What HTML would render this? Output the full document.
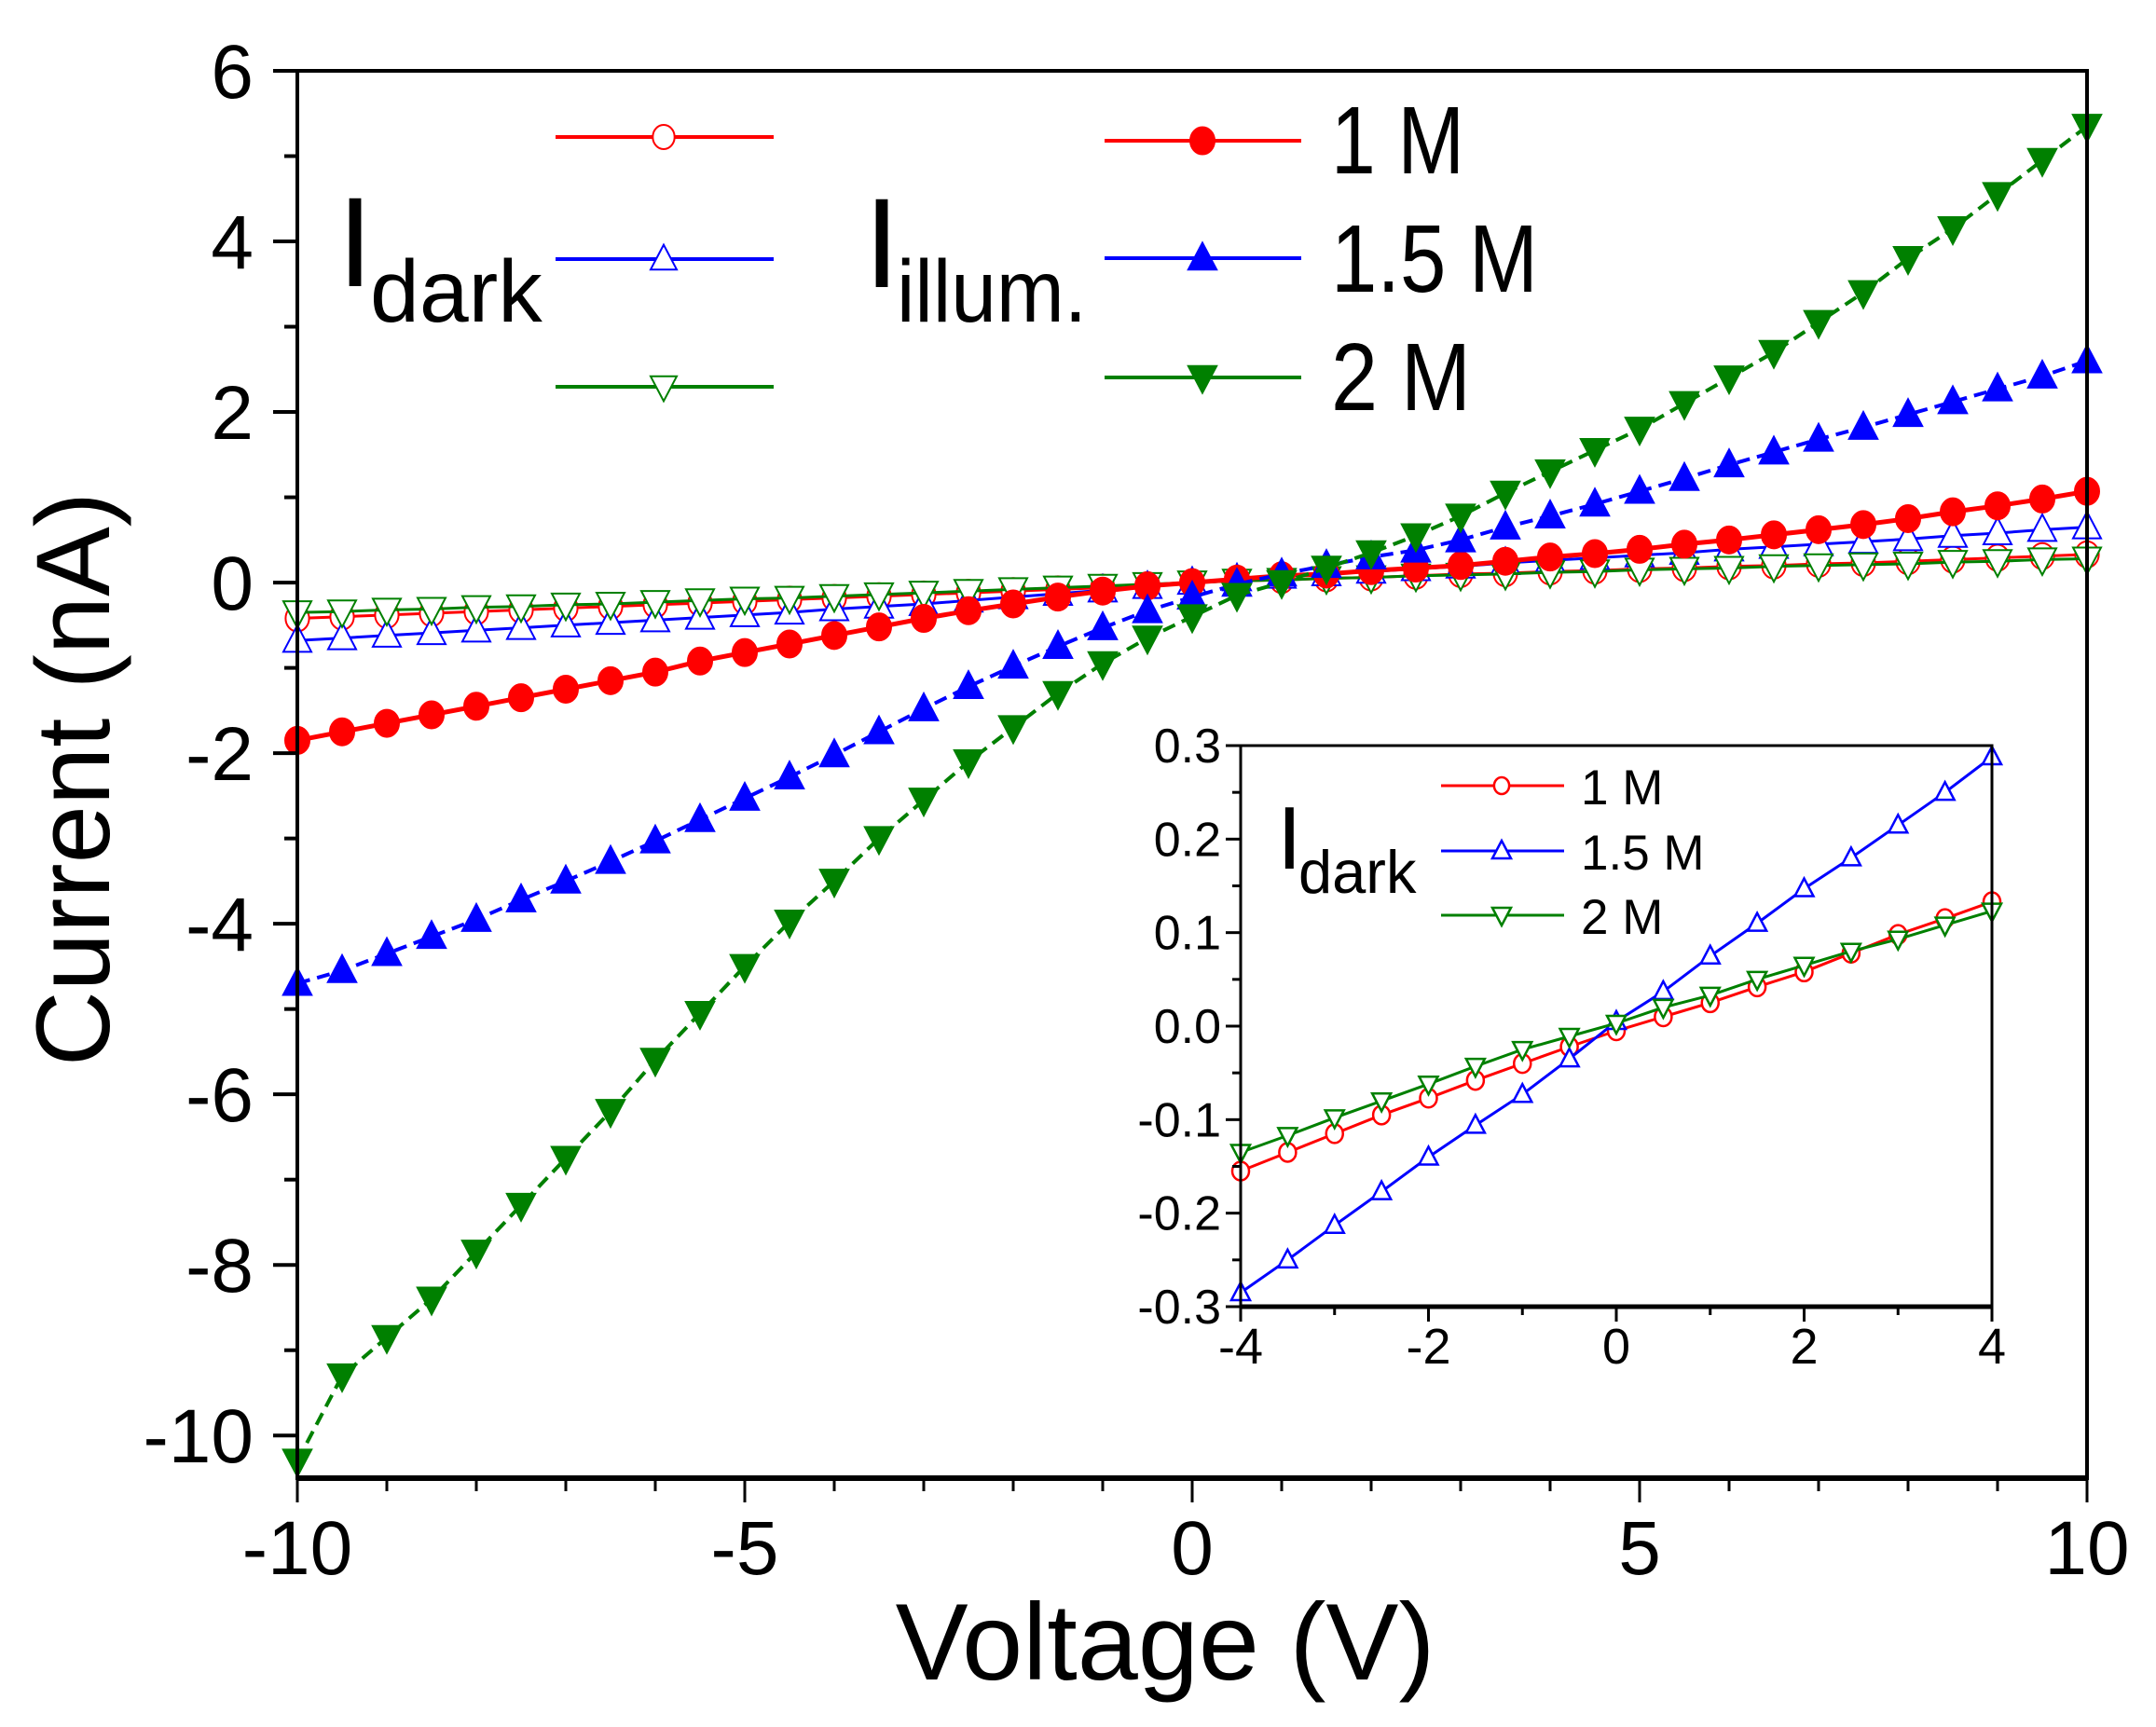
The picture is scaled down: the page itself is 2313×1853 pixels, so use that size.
<!DOCTYPE html>
<html><head><meta charset="utf-8">
<style>
html,body{margin:0;padding:0;background:#fff;}
svg{display:block;font-family:"Liberation Sans",Arial,sans-serif;}
</style></head>
<body>
<svg id="chart" width="2313" height="1853" viewBox="0 0 2313 1853" xmlns="http://www.w3.org/2000/svg">
<rect x="0" y="0" width="2313" height="1853" fill="#fff"/>
<g id="main-plot"></g>
<g id="inset-plot"></g>
</svg>
<script>
// ---- main chart data ----
const mainVoltages = [-10,-9.5,-9,-8.5,-8,-7.5,-7,-6.5,-6,-5.5,-5,-4.5,-4,-3.5,-3,-2.5,-2,-1.5,-1,-0.5,0,0.5,1,1.5,2,2.5,3,3.5,4,4.5,5,5.5,6,6.5,7,7.5,8,8.5,9,9.5,10];
const illum1M = [-1.85,-1.75,-1.65,-1.55,-1.45,-1.35,-1.25,-1.15,-1.05,-0.92,-0.82,-0.72,-0.62,-0.52,-0.42,-0.33,-0.25,-0.17,-0.1,-0.04,0,0.04,0.08,0.1,0.14,0.17,0.2,0.25,0.3,0.34,0.39,0.45,0.5,0.56,0.62,0.68,0.75,0.83,0.9,0.98,1.07];
const illum15M = [-4.7,-4.55,-4.35,-4.15,-3.95,-3.72,-3.5,-3.27,-3.03,-2.78,-2.53,-2.28,-2.02,-1.75,-1.48,-1.22,-0.98,-0.75,-0.53,-0.33,-0.17,-0.02,0.1,0.2,0.3,0.38,0.5,0.65,0.78,0.92,1.07,1.22,1.38,1.53,1.68,1.82,1.97,2.12,2.27,2.42,2.6];
const illum2M = [-10.3,-9.3,-8.85,-8.4,-7.85,-7.3,-6.75,-6.2,-5.6,-5.05,-4.5,-3.98,-3.5,-3.0,-2.55,-2.1,-1.7,-1.3,-0.95,-0.65,-0.4,-0.15,0.0,0.17,0.35,0.55,0.78,1.05,1.3,1.55,1.8,2.1,2.4,2.7,3.05,3.4,3.8,4.15,4.55,4.95,5.35];
const dark1M = [-0.42,-0.4,-0.38,-0.36,-0.34,-0.32,-0.3,-0.28,-0.26,-0.24,-0.22,-0.2,-0.18,-0.16,-0.14,-0.12,-0.1,-0.08,-0.06,-0.03,0,0.02,0.03,0.05,0.06,0.08,0.1,0.11,0.13,0.14,0.16,0.17,0.19,0.2,0.22,0.23,0.25,0.27,0.29,0.31,0.33];
const dark15M = [-0.68,-0.65,-0.62,-0.59,-0.56,-0.53,-0.5,-0.47,-0.44,-0.41,-0.38,-0.35,-0.31,-0.28,-0.25,-0.21,-0.17,-0.13,-0.09,-0.05,0,0.04,0.07,0.1,0.13,0.16,0.19,0.23,0.26,0.29,0.32,0.35,0.39,0.42,0.45,0.48,0.51,0.55,0.58,0.62,0.65];
const dark2M = [-0.35,-0.34,-0.32,-0.31,-0.29,-0.28,-0.26,-0.25,-0.23,-0.21,-0.19,-0.18,-0.16,-0.14,-0.12,-0.1,-0.08,-0.06,-0.04,-0.02,0,0.02,0.03,0.05,0.06,0.08,0.09,0.1,0.12,0.13,0.15,0.16,0.17,0.19,0.2,0.21,0.22,0.24,0.25,0.27,0.28];
const mainXTicks = [-10,-5,0,5,10];
const mainXTickLabels = ["-10","-5","0","5","10"];
const mainYTicks = [-10,-8,-6,-4,-2,0,2,4,6];
const mainYTickLabels = ["-10","-8","-6","-4","-2","0","2","4","6"];
// ---- inset data ----
const insetVoltages = [-4,-3.5,-3,-2.5,-2,-1.5,-1,-0.5,0,0.5,1,1.5,2,2.5,3,3.5,4];
const insetDark1M = [-0.155,-0.135,-0.115,-0.095,-0.077,-0.058,-0.04,-0.022,-0.005,0.01,0.025,0.042,0.058,0.078,0.098,0.115,0.133];
const insetDark15M = [-0.285,-0.25,-0.213,-0.177,-0.14,-0.106,-0.073,-0.035,0.005,0.037,0.075,0.11,0.147,0.18,0.215,0.25,0.288];
const insetDark2M = [-0.135,-0.117,-0.098,-0.08,-0.062,-0.043,-0.025,-0.011,0.003,0.02,0.033,0.05,0.065,0.08,0.093,0.108,0.123];
const insetXTicks = [-4,-2,0,2,4];
const insetXTickLabels = ["-4","-2","0","2","4"];
const insetYTicks = [-0.3,-0.2,-0.1,0,0.1,0.2,0.3];
const insetYTickLabels = ["-0.3","-0.2","-0.1","0.0","0.1","0.2","0.3"];

const NS = "http://www.w3.org/2000/svg";
function mk(parent, tag, attrs, text){
  const e = document.createElementNS(NS, tag);
  for (const k in attrs) e.setAttribute(k, attrs[k]);
  if (text !== undefined) e.textContent = text;
  parent.appendChild(e);
  return e;
}
const RED="#ff0000", BLUE="#0000ff", GREEN="#008000";

function marker(g, shape, cx, cy, s, color, filled, sw){
  let el;
  const fill = filled ? color : "#fff";
  if (shape === "circle") {
    el = mk(g, "ellipse", {cx:cx, cy:cy, rx:s*0.45, ry:s*0.5, fill:fill, stroke:color, "stroke-width":sw});
  } else if (shape === "up") {
    el = mk(g, "polygon", {points:`${cx},${cy-s*0.55} ${cx-s*0.5},${cy+s*0.4} ${cx+s*0.5},${cy+s*0.4}`, fill:fill, stroke:color, "stroke-width":sw});
  } else {
    el = mk(g, "polygon", {points:`${cx},${cy+s*0.55} ${cx-s*0.5},${cy-s*0.4} ${cx+s*0.5},${cy-s*0.4}`, fill:fill, stroke:color, "stroke-width":sw});
  }
  return el;
}

// ===== MAIN =====
const main = document.getElementById("main-plot");
const L=319, R=2239, T=76, B=1586;
const xMin=-10, xMax=10, yMin=-10.5, yMax=6;
const X = v => L + (v - xMin) / (xMax - xMin) * (R - L);
const Y = v => B - (v - yMin) / (yMax - yMin) * (B - T);

function series(g, xs, ys, color, shape, filled, dash, name, size, lw, msw){
  const sg = mk(g, "g", {});
  
  
  const pts = xs.map((x,i)=>`${X(x).toFixed(1)},${Y(ys[i]).toFixed(1)}`).join(" ");
  const pl = mk(sg, "polyline", {points:pts, fill:"none", stroke:color, "stroke-width":lw});
  if (dash) pl.setAttribute("stroke-dasharray", dash);
  
  
  xs.forEach((x,i)=>{
    const m = marker(sg, shape, X(x), Y(ys[i]), size, color, filled, msw);
    
    
  });
}
// dark (open) first
series(main, mainVoltages, dark1M, RED, "circle", false, null, "dark-1m-series", 28, 3, 2);
series(main, mainVoltages, dark15M, BLUE, "up", false, null, "dark-1.5m-series", 30, 3, 2);
series(main, mainVoltages, dark2M, GREEN, "down", false, null, "dark-2m-series", 30, 3, 2);
series(main, mainVoltages, illum1M, RED, "circle", true, null, "illum-1m-series", 30, 5, 1);
series(main, mainVoltages, illum15M, BLUE, "up", true, "14,8", "illum-1.5m-series", 32, 4, 1);
series(main, mainVoltages, illum2M, GREEN, "down", true, "14,8", "illum-2m-series", 32, 4, 1);

// frame
const fr = mk(main, "rect", {x:L, y:T, width:R-L, height:B-T, fill:"none", stroke:"#000", "stroke-width":4});


mk(main, "line", {x1:L, y1:B, x2:R, y2:B, stroke:"#000", "stroke-width":6});

// x ticks
for (let v=-10; v<=10; v+=1){
  const major = mainXTicks.includes(v);
  mk(main, "line", {x1:X(v), y1:B, x2:X(v), y2:B+(major?26:14), stroke:"#000", "stroke-width":3});
}
mainXTicks.forEach((v,i)=>{
  const t = mk(main, "text", {x:X(v), y:1689, "font-size":82, "text-anchor":"middle"}, mainXTickLabels[i]);
  
  
});
// y ticks
for (let v=-10; v<=6; v+=1){
  const major = mainYTicks.includes(v);
  mk(main, "line", {x1:L, y1:Y(v), x2:L-(major?26:14), y2:Y(v), stroke:"#000", "stroke-width":4});
}
mainYTicks.forEach((v,i)=>{
  const t = mk(main, "text", {x:272, y:Y(v)+29, "font-size":82, "text-anchor":"end"}, mainYTickLabels[i]);
  
  
});
// axis titles
const xt = mk(main, "text", {x:1250, y:1802, "font-size":117, "text-anchor":"middle"}, "Voltage (V)");


const yt = mk(main, "text", {x:0, y:0, "font-size":112, "text-anchor":"middle", transform:"translate(117,836) rotate(-90)"}, "Current (nA)");



// legends
function legendEntry(g, x1, x2, mx, y, color, shape, filled, size, lw, msw, name){
  const eg = mk(g, "g", {});
  
  
  mk(eg, "line", {x1:x1, y1:y, x2:x2, y2:y, stroke:color, "stroke-width":lw});
  marker(eg, shape, mx, y, size, color, filled, msw);
  return eg;
}
const lg = mk(main, "g", {});


legendEntry(lg, 596, 830, 712, 147, RED, "circle", false, 26, 4, 2, "legend-dark-1m");
legendEntry(lg, 596, 830, 712, 278, BLUE, "up", false, 28, 4, 2, "legend-dark-1.5m");
legendEntry(lg, 596, 830, 712, 415, GREEN, "down", false, 28, 4, 2, "legend-dark-2m");
legendEntry(lg, 1185, 1396, 1290, 151, RED, "circle", true, 30, 4, 1, "legend-illum-1m");
legendEntry(lg, 1185, 1396, 1290, 277, BLUE, "up", true, 32, 4, 1, "legend-illum-1.5m");
legendEntry(lg, 1185, 1396, 1290, 405, GREEN, "down", true, 32, 4, 1, "legend-illum-2m");
const ld = mk(lg, "text", {x:362, y:307, "font-size":137}, "I");


mk(lg, "text", {x:397, y:345, "font-size":95}, "dark");
const li = mk(lg, "text", {x:927, y:308, "font-size":137}, "I");


mk(lg, "text", {x:962, y:345, "font-size":95, textLength:204, lengthAdjust:"spacingAndGlyphs"}, "illum.");
[["1 M",186,143],["1.5 M",313,222],["2 M",440,150]].forEach(a=>{
  const t = mk(lg, "text", {x:1428, y:a[1], "font-size":103, textLength:a[2], lengthAdjust:"spacingAndGlyphs"}, a[0]);
  
  
});

// ===== INSET =====
const ins = document.getElementById("inset-plot");
const iL=1331, iR=2137, iT=800, iB=1402;
const iX = v => iL + (v + 4) / 8 * (iR - iL);
const iY = v => iB - (v + 0.3) / 0.6 * (iB - iT);
mk(ins, "rect", {x:iL, y:iT, width:iR-iL, height:iB-iT, fill:"#fff", stroke:"none"});
function iseries(xs, ys, color, shape, name){
  const sg = mk(ins, "g", {});
  
  
  mk(sg, "polyline", {points: xs.map((x,i)=>`${iX(x).toFixed(1)},${iY(ys[i]).toFixed(1)}`).join(" "), fill:"none", stroke:color, "stroke-width":3});
  xs.forEach((x,i)=>{
    const m = marker(sg, shape, iX(x), iY(ys[i]), 20, color, false, 2.5);
    
    
  });
}
iseries(insetVoltages, insetDark1M, RED, "circle", "inset-1m-series");
iseries(insetVoltages, insetDark15M, BLUE, "up", "inset-1.5m-series");
iseries(insetVoltages, insetDark2M, GREEN, "down", "inset-2m-series");
const ifr = mk(ins, "rect", {x:iL, y:iT, width:iR-iL, height:iB-iT, fill:"none", stroke:"#000", "stroke-width":3});


mk(ins, "line", {x1:iL, y1:iB, x2:iR, y2:iB, stroke:"#000", "stroke-width":5});
for (let v=-4; v<=4; v+=1){
  const major = insetXTicks.includes(v);
  mk(ins, "line", {x1:iX(v), y1:iB, x2:iX(v), y2:iB+(major?16:9), stroke:"#000", "stroke-width":3});
}
insetXTicks.forEach((v,i)=>{
  const t = mk(ins, "text", {x:iX(v), y:1463, "font-size":54, "text-anchor":"middle"}, insetXTickLabels[i]);
  
  
});
for (let k=-6; k<=6; k++){
  const v = k*0.05;
  const major = (k % 2 === 0);
  mk(ins, "line", {x1:iL, y1:iY(v), x2:iL-(major?16:9), y2:iY(v), stroke:"#000", "stroke-width":3});
}
insetYTicks.forEach((v,i)=>{
  const t = mk(ins, "text", {x:1310, y:iY(v)+18, "font-size":52, "text-anchor":"end"}, insetYTickLabels[i]);
  
  
});
const ilg = mk(ins, "g", {});


legendEntry(ilg, 1546, 1678, 1611, 843, RED, "circle", false, 18, 3, 2.5, "inset-legend-1m");
legendEntry(ilg, 1546, 1678, 1611, 913, BLUE, "up", false, 20, 3, 2.5, "inset-legend-1.5m");
legendEntry(ilg, 1546, 1678, 1611, 982, GREEN, "down", false, 20, 3, 2.5, "inset-legend-2m");
mk(ilg, "text", {x:1370, y:932, "font-size":96}, "I");
mk(ilg, "text", {x:1393, y:958, "font-size":65}, "dark");
[["1 M",863],["1.5 M",933],["2 M",1002]].forEach(a=>{
  const t = mk(ilg, "text", {x:1696, y:a[1], "font-size":53}, a[0]);
  
  
});
</script>
</body></html>
